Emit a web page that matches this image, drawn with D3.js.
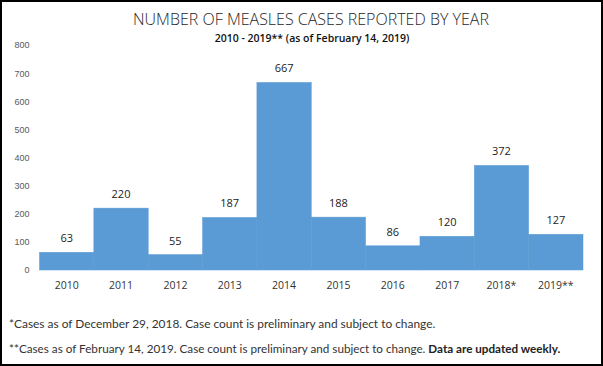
<!DOCTYPE html>
<html>
<head>
<meta charset="utf-8">
<script src="https://cdn.jsdelivr.net/npm/d3@7"></script>
<style>
  html, body { margin: 0; padding: 0; background: #fff; }
  svg { display: block; }
</style>
</head>
<body>
<div id="chart"></div>
<script>
// data
const years = ["2010", "2011", "2012", "2013", "2014", "2015", "2016", "2017", "2018*", "2019**"];
const cases = [63, 220, 55, 187, 667, 188, 86, 120, 372, 127];
const yTicks = [0, 100, 200, 300, 400, 500, 600, 700, 800];

const titleText = "NUMBER OF MEASLES CASES REPORTED BY YEAR";
const subtitleText = "2010 - 2019** (as of February 14, 2019)";
const note1 = "*Cases as of December 29, 2018. Case count is preliminary and subject to change.";
const note2 = "**Cases as of February 14, 2019. Case count is preliminary and subject to change. ";
const note2Bold = "Data are updated weekly.";

const width = 603, height = 366;
const margin = { top: 45, right: 20, bottom: 96, left: 39.5 };
const innerW = 583 - margin.left;
const innerH = 270 - margin.top;

const svg = d3.select("#chart").append("svg")
    .attr("width", width)
    .attr("height", height);

svg.append("rect")
    .attr("x", 1).attr("y", 1)
    .attr("width", width - 2).attr("height", height - 2)
    .attr("fill", "#fff")
    .attr("stroke", "#000")
    .attr("stroke-width", 2);

// titles
svg.append("text")
    .attr("x", 311).attr("y", 25)
    .attr("text-anchor", "middle")
    .style("font-family", "'Open Sans', sans-serif")
    .style("font-weight", 300)
    .style("font-size", "16px")
    .style("fill", "#262626")
    .text(titleText);

svg.append("text")
    .attr("x", 312).attr("y", 42)
    .attr("text-anchor", "middle")
    .style("font-family", "'Open Sans', sans-serif")
    .style("font-weight", 600)
    .style("font-size", "10.5px")
    .style("fill", "#111")
    .text(subtitleText);

const g = svg.append("g")
    .attr("transform", `translate(${margin.left},${margin.top})`);

const x = d3.scaleBand()
    .domain(years)
    .range([0, innerW])
    .padding(0);

const y = d3.scaleLinear()
    .domain([0, 800])
    .range([innerH, 0]);

// y axis (labels only)
const yAxis = g.append("g")
    .call(d3.axisLeft(y).tickValues(yTicks).tickSize(0).tickPadding(10));
yAxis.select(".domain").remove();
yAxis.selectAll("text")
    .style("font-family", "'Liberation Sans', Arial, sans-serif")
    .style("font-size", "9px")
    .style("fill", "#595959");

// bars
g.selectAll(".bar")
    .data(cases)
    .enter()
    .append("rect")
    .attr("class", "bar")
    .attr("x", (d, i) => x(years[i]))
    .attr("y", d => y(d))
    .attr("width", x.bandwidth())
    .attr("height", d => innerH - y(d))
    .style("fill", "#5b9bd5")
    .style("stroke", "#5b9bd5")
    .style("stroke-width", 0.5);

// value labels
g.selectAll(".val")
    .data(cases)
    .enter()
    .append("text")
    .attr("class", "val")
    .attr("x", (d, i) => x(years[i]) + x.bandwidth() / 2)
    .attr("y", d => y(d) - 10)
    .attr("text-anchor", "middle")
    .style("font-family", "'Open Sans', sans-serif")
    .style("font-size", "11px")
    .style("fill", "#222")
    .text(d => d);

// x axis
const xAxis = g.append("g")
    .attr("transform", `translate(0,${innerH})`)
    .call(d3.axisBottom(x).tickSize(0).tickPadding(12));
xAxis.select(".domain").remove();
xAxis.selectAll("text")
    .style("font-family", "'Open Sans', sans-serif")
    .style("font-size", "10.5px")
    .style("fill", "#333");

// footnotes
svg.append("text")
    .attr("x", 9).attr("y", 328)
    .style("font-family", "Lato, sans-serif")
    .style("font-size", "11.9px")
    .style("fill", "#333")
    .text(note1);

const n2 = svg.append("text")
    .attr("x", 9).attr("y", 353)
    .style("font-family", "Lato, sans-serif")
    .style("font-size", "11.7px")
    .style("fill", "#333");
n2.append("tspan").text(note2);
n2.append("tspan").style("font-weight", 700).style("fill", "#222").text(note2Bold);
</script>
</body>
</html>
